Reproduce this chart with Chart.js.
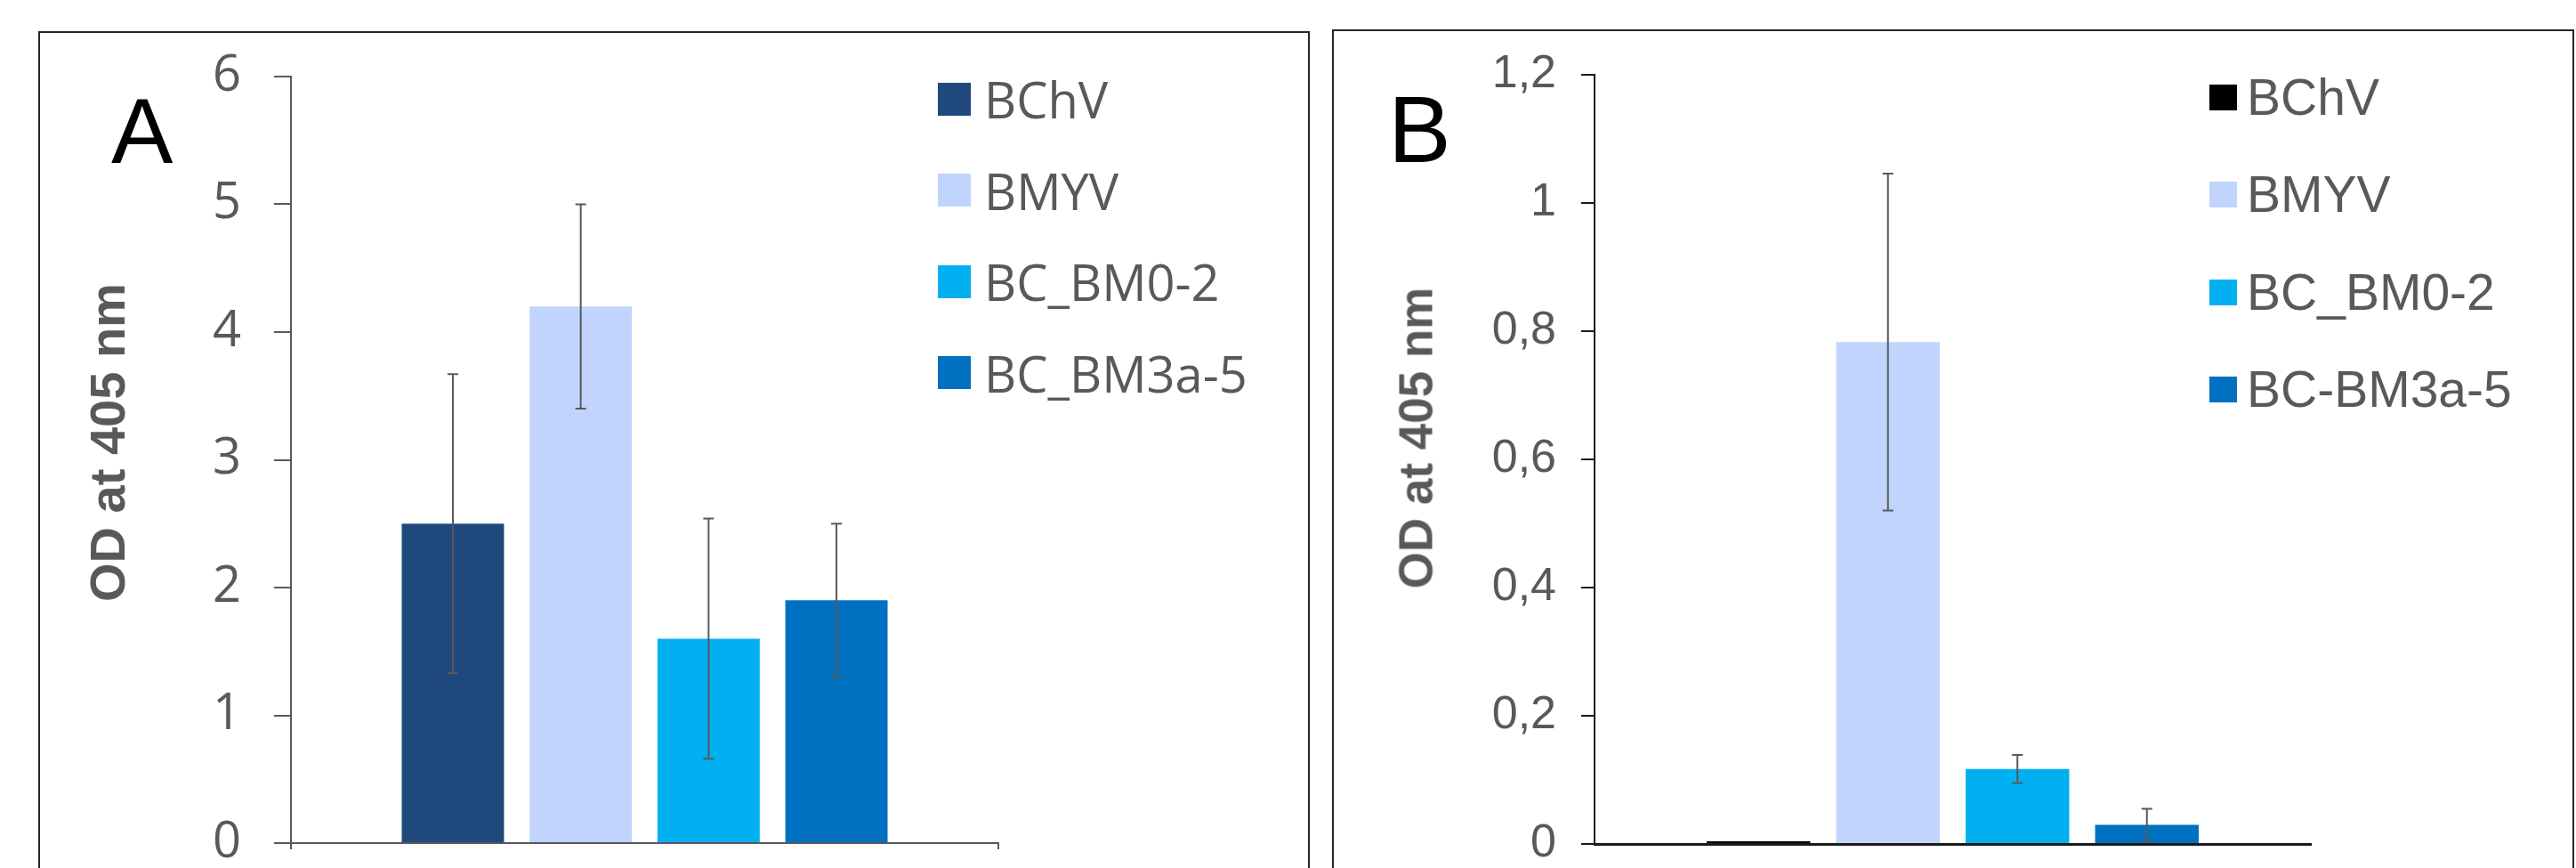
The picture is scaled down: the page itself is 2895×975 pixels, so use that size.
<!DOCTYPE html>
<html>
<head>
<meta charset="utf-8">
<script src="https://cdn.jsdelivr.net/npm/chart.js@4.4.0/dist/chart.umd.min.js"></script>
<style>
  html, body { margin: 0; padding: 0; background: #fff; width: 2895px; height: 975px; overflow: hidden; }
  .frame { position: absolute; border: 2px solid #262626; box-sizing: border-box; }
  canvas { position: absolute; top: 0; }
  .letter { position: absolute; color: #000; font-family: "Liberation Sans", Arial, sans-serif; line-height: 1; }
  .ytitle { position: absolute; color: #595959; font-family: "Liberation Sans", Arial, sans-serif; font-weight: bold;
            line-height: 1; white-space: nowrap; transform: translate(-50%, -50%) rotate(-90deg); }
  .legend { position: absolute; color: #595959; }
  .legend .row { display: flex; align-items: center; line-height: 1; white-space: nowrap; }
  .legend .box { flex: none; }
</style>
</head>
<body>
<div class="frame" style="left:43px; top:35px; width:1429px; height:1000px;"></div>
<div class="frame" style="left:1497px; top:33px; width:1396px; height:1000px;"></div>

<canvas id="chart-a" width="1480" height="1100" style="left:0px;"></canvas>
<canvas id="chart-b" width="1415" height="1100" style="left:1480px;"></canvas>

<div class="letter" style="left:125px; top:95px; font-size:104px;">A</div>
<div class="letter" style="left:1560px; top:92px; font-size:106px;">B</div>
<div class="ytitle" style="left:121px; top:497px; font-size:56px;">OD at 405 nm</div>
<div class="ytitle" style="left:1591px; top:492px; font-size:53px;">OD at 405 nm</div>

<div class="legend" id="legend-a" style="left:1054px; top:60px; font-family:'Open Sans', sans-serif; font-size:56px;"></div>
<div class="legend" id="legend-b" style="left:2483px; top:55px; font-family:'Liberation Sans', Arial, sans-serif; font-size:57px;"></div>

<script>
// panel A
const namesA = ["BChV", "BMYV", "BC_BM0-2", "BC_BM3a-5"];
const valuesA = [2.5, 4.2, 1.6, 1.9];
const errorsA = [1.17, 0.8, 0.94, 0.6];
const colorsA = ["#1F497D", "#C1D4FD", "#00B0F0", "#0070C0"];
const tickValuesA = [0, 1, 2, 3, 4, 5, 6];
const tickLabelsA = ["0", "1", "2", "3", "4", "5", "6"];

// panel B
const namesB = ["BChV", "BMYV", "BC_BM0-2", "BC-BM3a-5"];
const valuesB = [0.004, 0.783, 0.117, 0.03];
const errorsB = [0, 0.263, 0.022, 0.025];
const colorsB = ["#000000", "#C1D4FD", "#00B0F0", "#0070C0"];
const tickValuesB = [0, 0.2, 0.4, 0.6, 0.8, 1, 1.2];
const tickLabelsB = ["0", "0,2", "0,4", "0,6", "0,8", "1", "1,2"];

const categories = [""];

// whiskers drawn from each dataset's "errors" through the y scale
const errorBars = {
    id: "errorBars",
    afterDatasetsDraw(chart) {
        const ctx = chart.ctx;
        const y = chart.scales.y;
        ctx.save();
        ctx.strokeStyle = "#595959";
        ctx.lineWidth = 2;
        chart.data.datasets.forEach((ds, i) => {
            const err = ds.errors[0];
            if (!err) return;
            const bar = chart.getDatasetMeta(i).data[0];
            const top = y.getPixelForValue(ds.data[0] + err);
            const bottom = y.getPixelForValue(ds.data[0] - err);
            ctx.beginPath();
            ctx.moveTo(bar.x, top);
            ctx.lineTo(bar.x, bottom);
            ctx.moveTo(bar.x - 6, top);
            ctx.lineTo(bar.x + 6, top);
            ctx.moveTo(bar.x - 6, bottom);
            ctx.lineTo(bar.x + 6, bottom);
            ctx.stroke();
        });
        ctx.restore();
    }
};

function drawPanel(p) {
    const datasets = p.names.map((name, i) => ({
        label: name,
        data: [p.values[i]],
        errors: [p.errors[i]],
        backgroundColor: p.colors[i],
        borderWidth: 0,
        categoryPercentage: 0.723,
        barPercentage: 0.8
    }));

    new Chart(document.getElementById(p.canvasId), {
        type: "bar",
        data: { labels: categories, datasets: datasets },
        options: {
            responsive: false,
            animation: false,
            devicePixelRatio: 1,
            layout: { padding: p.padding },
            plugins: { legend: { display: false }, tooltip: { enabled: false } },
            scales: {
                x: {
                    offset: true,
                    ticks: { display: false },
                    grid: {
                        offset: true,
                        drawOnChartArea: false,
                        drawTicks: p.xTicks,
                        tickLength: 7,
                        color: p.xTicks ? p.axisColor : "rgba(0,0,0,0)",
                        lineWidth: 2
                    },
                    border: { color: p.axisColor, width: p.xBorder },
                    afterFit: s => { s.height = 7; }
                },
                y: {
                    min: 0,
                    max: p.tickValues[p.tickValues.length - 1],
                    afterBuildTicks: s => { s.ticks = p.tickValues.map(v => ({ value: v })); },
                    afterFit: s => { s.width = p.yWidth; },
                    ticks: {
                        color: "#595959",
                        padding: p.tickPadding,
                        font: { family: p.font, size: p.fontSize, lineHeight: 1 },
                        callback: (v, i) => p.tickLabels[i]
                    },
                    grid: {
                        drawOnChartArea: false,
                        tickLength: p.tickLength,
                        color: p.axisColor,
                        lineWidth: 2
                    },
                    border: { color: p.axisColor, width: 2 }
                }
            }
        },
        plugins: [errorBars]
    });
}

function buildLegend(id, names, colors, box, rowH, gap) {
    const el = document.getElementById(id);
    names.forEach((name, i) => {
        const row = document.createElement("div");
        row.className = "row";
        row.style.height = rowH + "px";
        const sq = document.createElement("span");
        sq.className = "box";
        sq.style.width = box[0] + "px";
        sq.style.height = box[1] + "px";
        sq.style.background = colors[i];
        sq.style.marginRight = gap + "px";
        const label = document.createElement("span");
        label.textContent = name;
        row.appendChild(sq);
        row.appendChild(label);
        el.appendChild(row);
    });
}

drawPanel({
    canvasId: "chart-a",
    names: namesA, values: valuesA, errors: errorsA, colors: colorsA,
    tickValues: tickValuesA, tickLabels: tickLabelsA,
    padding: { left: 0, top: 86, right: 358, bottom: 146 },
    yWidth: 327, tickLength: 19, tickPadding: 37,
    font: "'Open Sans', sans-serif", fontSize: 56,
    axisColor: "#595959", xTicks: true, xBorder: 2
});

drawPanel({
    canvasId: "chart-b",
    names: namesB, values: valuesB, errors: errorsB, colors: colorsB,
    tickValues: tickValuesB, tickLabels: tickLabelsB,
    padding: { left: 0, top: 84, right: 298, bottom: 145 },
    yWidth: 312, tickLength: 15, tickPadding: 28,
    font: "'Liberation Sans', Arial, sans-serif", fontSize: 52,
    axisColor: "#1a1a1a", xTicks: false, xBorder: 3
});

buildLegend("legend-a", namesA, colorsA, [37, 37], 102.5, 15);
buildLegend("legend-b", namesB, colorsB, [31, 29], 109.3, 11);
</script>
</body>
</html>
